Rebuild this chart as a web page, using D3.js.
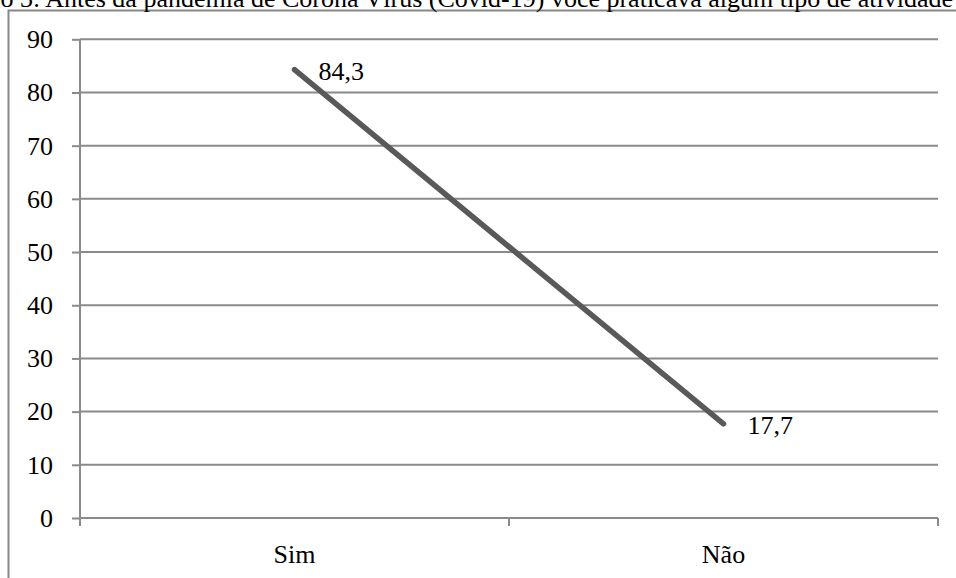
<!DOCTYPE html>
<html><head><meta charset="utf-8">
<script src="https://cdn.jsdelivr.net/npm/d3@7"></script>
<style>html,body{margin:0;padding:0;background:#fff;overflow:hidden}svg{display:block}</style>
</head><body>
<script>
const titleText = "Gráfico 3: Antes da pandemia de Corona Vírus (Covid-19) você praticava algum tipo de atividade física?";
const categories = ["Sim", "Não"];
const values = [84.3, 17.7];
const valueLabels = ["84,3", "17,7"];
const yTicks = [0, 10, 20, 30, 40, 50, 60, 70, 80, 90];

(function () {
const W = 956, H = 578;
const font = "'Liberation Serif','Times New Roman',serif";
const svg = d3.select("body").append("svg").attr("width", W).attr("height", H);

// outer frame
svg.append("rect").attr("x", 8.5).attr("y", 10.5).attr("width", W + 20).attr("height", H + 20)
  .attr("fill", "none").attr("stroke", "#878787").attr("stroke-width", 2);

// title (clipped at top-left like the reference)
svg.append("text").attr("x", -66).attr("y", 7).attr("font-family", font).attr("font-size", 26)
  .attr("fill", "#000").text(titleText);

const mLeft = 80, mRight = 938, mTop = 39.3, mBottom = 518;
const x = d3.scaleBand().domain(categories).range([mLeft, mRight]);
const y = d3.scaleLinear().domain([0, 90]).range([mBottom, mTop]);

const gridColor = "#8a8a8a";
// gridlines
svg.append("g").selectAll("line").data(yTicks).join("line")
  .attr("x1", mLeft).attr("x2", mRight)
  .attr("y1", d => y(d)).attr("y2", d => y(d))
  .attr("stroke", gridColor).attr("stroke-width", 2);

// y axis
const yAxis = svg.append("g").attr("transform", `translate(${mLeft},0)`)
  .call(d3.axisLeft(y).tickValues(yTicks).tickSize(8).tickPadding(19).tickSizeOuter(0));
yAxis.select(".domain").remove();
yAxis.selectAll(".tick line").attr("stroke", gridColor).attr("stroke-width", 2);
yAxis.selectAll("text").attr("font-family", font).attr("font-size", 26).attr("fill", "#000");
svg.append("line").attr("x1", mLeft).attr("x2", mLeft).attr("y1", mTop).attr("y2", mBottom + 8)
  .attr("stroke", gridColor).attr("stroke-width", 2);

// x axis tick marks at band edges
const edges = categories.map(c => x(c)).concat([mRight]);
svg.append("g").selectAll("line").data(edges).join("line")
  .attr("x1", d => d).attr("x2", d => d).attr("y1", mBottom).attr("y2", mBottom + 8)
  .attr("stroke", gridColor).attr("stroke-width", 2);

// x labels
const xAxis = svg.append("g").attr("transform", `translate(0,${mBottom})`)
  .call(d3.axisBottom(x).tickSize(0).tickPadding(26.5));
xAxis.select(".domain").remove();
xAxis.selectAll("text").attr("font-family", font).attr("font-size", 26).attr("fill", "#000");

// line
const pts = categories.map((c, i) => [x(c) + x.bandwidth() / 2, y(values[i])]);
svg.append("path").attr("d", d3.line()(pts)).attr("fill", "none")
  .attr("stroke", "#595959").attr("stroke-width", 5.5).attr("stroke-linecap", "round");

// value labels
svg.append("g").selectAll("text").data(pts).join("text")
  .attr("x", d => d[0] + 24).attr("y", d => d[1] + 10)
  .attr("font-family", font).attr("font-size", 26).attr("fill", "#000")
  .text((d, i) => valueLabels[i]);
})();
</script>
</body></html>
